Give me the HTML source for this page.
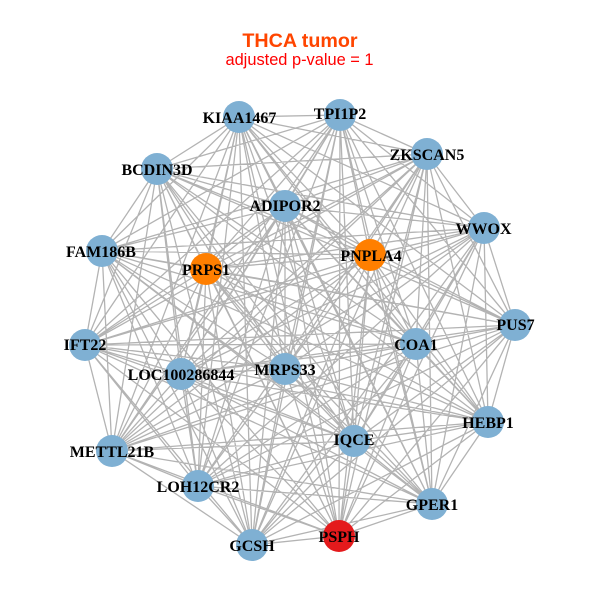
<!DOCTYPE html>
<html>
<head>
<meta charset="utf-8">
<style>
html,body{margin:0;padding:0;background:#fff;width:600px;height:600px;overflow:hidden}
svg{display:block}
.l{font-family:"Liberation Serif",serif;font-weight:bold;font-size:16px;fill:#000;text-anchor:middle}
</style>
</head>
<body>
<svg width="600" height="600" viewBox="0 0 600 600" xmlns="http://www.w3.org/2000/svg">
<rect width="600" height="600" fill="#fff"/>
<path fill="none" stroke="#b3b3b3" stroke-width="1.3" d="
M239 117L340 115M239 117L427 154M239 117L484 228M239 117L515 325M239 117L488 422M239 117L432 504M239 117L339 536M239 117L252 545M239 117L198 486M239 117L112 451M239 117L85 345M239 117L102 251M239 117L157 169M239 117L285 206M239 117L370 255M239 117L206 269M239 117L416 344M239 117L181 374M239 117L285 369M239 117L354 441
M340 115L427 154M340 115L484 228M340 115L515 325M340 115L488 422M340 115L432 504M340 115L339 536M340 115L252 545M340 115L198 486M340 115L112 451M340 115L85 345M340 115L102 251M340 115L157 169M340 115L285 206M340 115L370 255M340 115L206 269M340 115L416 344M340 115L181 374M340 115L285 369M340 115L354 441
M427 154L484 228M427 154L515 325M427 154L488 422M427 154L432 504M427 154L339 536M427 154L252 545M427 154L198 486M427 154L112 451M427 154L85 345M427 154L102 251M427 154L157 169M427 154L285 206M427 154L370 255M427 154L206 269M427 154L416 344M427 154L181 374M427 154L285 369M427 154L354 441
M484 228L515 325M484 228L488 422M484 228L432 504M484 228L339 536M484 228L252 545M484 228L198 486M484 228L112 451M484 228L85 345M484 228L102 251M484 228L157 169M484 228L285 206M484 228L370 255M484 228L206 269M484 228L416 344M484 228L181 374M484 228L285 369M484 228L354 441
M515 325L488 422M515 325L432 504M515 325L339 536M515 325L252 545M515 325L198 486M515 325L112 451M515 325L85 345M515 325L102 251M515 325L157 169M515 325L285 206M515 325L370 255M515 325L206 269M515 325L416 344M515 325L181 374M515 325L285 369M515 325L354 441
M488 422L432 504M488 422L339 536M488 422L252 545M488 422L198 486M488 422L112 451M488 422L85 345M488 422L102 251M488 422L157 169M488 422L285 206M488 422L370 255M488 422L206 269M488 422L416 344M488 422L181 374M488 422L285 369M488 422L354 441
M432 504L339 536M432 504L252 545M432 504L198 486M432 504L112 451M432 504L85 345M432 504L102 251M432 504L157 169M432 504L285 206M432 504L370 255M432 504L206 269M432 504L416 344M432 504L181 374M432 504L285 369M432 504L354 441
M339 536L252 545M339 536L198 486M339 536L112 451M339 536L85 345M339 536L102 251M339 536L157 169M339 536L285 206M339 536L370 255M339 536L206 269M339 536L416 344M339 536L181 374M339 536L285 369M339 536L354 441
M252 545L198 486M252 545L112 451M252 545L85 345M252 545L102 251M252 545L157 169M252 545L285 206M252 545L370 255M252 545L206 269M252 545L416 344M252 545L181 374M252 545L285 369M252 545L354 441
M198 486L112 451M198 486L85 345M198 486L102 251M198 486L157 169M198 486L285 206M198 486L370 255M198 486L206 269M198 486L416 344M198 486L181 374M198 486L285 369M198 486L354 441
M112 451L85 345M112 451L102 251M112 451L157 169M112 451L285 206M112 451L370 255M112 451L206 269M112 451L416 344M112 451L181 374M112 451L285 369M112 451L354 441
M85 345L102 251M85 345L157 169M85 345L285 206M85 345L370 255M85 345L206 269M85 345L416 344M85 345L181 374M85 345L285 369M85 345L354 441
M102 251L157 169M102 251L285 206M102 251L370 255M102 251L206 269M102 251L416 344M102 251L181 374M102 251L285 369M102 251L354 441
M157 169L285 206M157 169L370 255M157 169L206 269M157 169L416 344M157 169L181 374M157 169L285 369M157 169L354 441
M285 206L370 255M285 206L206 269M285 206L416 344M285 206L181 374M285 206L285 369M285 206L354 441
M370 255L206 269M370 255L416 344M370 255L181 374M370 255L285 369M370 255L354 441
M206 269L416 344M206 269L181 374M206 269L285 369M206 269L354 441
M416 344L181 374M416 344L285 369M416 344L354 441
M181 374L285 369M181 374L354 441
M285 369L354 441"/>
<g fill="#7fb0d3">
<circle cx="239" cy="117" r="16"/><circle cx="340" cy="115" r="16"/><circle cx="427" cy="154" r="16"/><circle cx="484" cy="228" r="16"/><circle cx="515" cy="325" r="16"/><circle cx="488" cy="422" r="16"/><circle cx="432" cy="504" r="16"/><circle cx="252" cy="545" r="16"/><circle cx="198" cy="486" r="16"/><circle cx="112" cy="451" r="16"/><circle cx="85" cy="345" r="16"/><circle cx="102" cy="251" r="16"/><circle cx="157" cy="169" r="16"/><circle cx="285" cy="206" r="16"/><circle cx="416" cy="344" r="16"/><circle cx="181" cy="374" r="16"/><circle cx="285" cy="369" r="16"/><circle cx="354" cy="441" r="16"/>
</g>
<circle cx="370" cy="255" r="16" fill="#ff7f00"/>
<circle cx="206" cy="269" r="16" fill="#ff7f00"/>
<circle cx="339" cy="536" r="16" fill="#e41a1c"/>
<g>
<text class="l" x="239.500" y="123">KIAA1467</text>
<text class="l" x="340" y="119">TPI1P2</text>
<text class="l" x="427" y="160">ZKSCAN5</text>
<text class="l" x="483.500" y="234">WWOX</text>
<text class="l" x="515.500" y="330">PUS7</text>
<text class="l" x="488" y="428">HEBP1</text>
<text class="l" x="432" y="510">GPER1</text>
<text class="l" x="339" y="542">PSPH</text>
<text class="l" x="252" y="551">GCSH</text>
<text class="l" x="198" y="492">LOH12CR2</text>
<text class="l" x="112" y="457">METTL21B</text>
<text class="l" x="85" y="350">IFT22</text>
<text class="l" x="101" y="257">FAM186B</text>
<text class="l" x="157" y="175">BCDIN3D</text>
<text class="l" x="285" y="211">ADIPOR2</text>
<text class="l" x="371" y="261">PNPLA4</text>
<text class="l" x="206" y="275">PRPS1</text>
<text class="l" x="416" y="350">COA1</text>
<text class="l" x="181" y="380">LOC100286844</text>
<text class="l" x="285" y="375">MRPS33</text>
<text class="l" x="354" y="445">IQCE</text>
</g>
<text x="300" y="47" text-anchor="middle" font-family="'Liberation Sans',sans-serif" font-weight="bold" font-size="19.700px" fill="#ff4500">THCA tumor</text>
<text x="299.500" y="65" text-anchor="middle" font-family="'Liberation Sans',sans-serif" font-size="16.400px" fill="#ff0000">adjusted p-value = 1</text>
</svg>
</body>
</html>
